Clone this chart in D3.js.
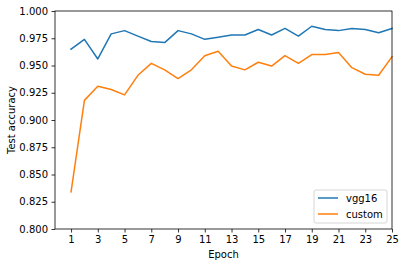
<!DOCTYPE html>
<html>
<head>
<meta charset="utf-8">
<script src="https://cdn.jsdelivr.net/npm/d3@7"></script>
<style>
  body { margin: 0; background: #fff; }
  svg { display: block; font-family: "DejaVu Sans", sans-serif; }
</style>
</head>
<body>
<svg width="405" height="266"></svg>
<script>
(function() {
  // values
  var epochs = d3.range(1, 26);
  var vgg16 = [0.965, 0.974, 0.956, 0.979, 0.982, 0.977, 0.972, 0.971, 0.982, 0.979,
               0.974, 0.976, 0.978, 0.978, 0.983, 0.978, 0.984, 0.977, 0.986, 0.983,
               0.982, 0.984, 0.983, 0.980, 0.984];
  var custom = [0.834, 0.918, 0.931, 0.928, 0.923, 0.941, 0.952, 0.946, 0.938, 0.946,
                0.959, 0.963, 0.9495, 0.946, 0.953, 0.9495, 0.959, 0.952, 0.960, 0.960,
                0.962, 0.948, 0.942, 0.941, 0.958];
  var xTicks = d3.range(1, 26, 2);
  var yTicks = d3.range(0, 9).map(function(i) { return 0.8 + i * 0.025; });

  var series = [
    {name: "vgg16", values: vgg16, color: "#1f77b4"},
    {name: "custom", values: custom, color: "#ff7f0e"}
  ];

  var svg = d3.select("svg");
  var left = 55, right = 392, top = 11, bottom = 229;

  var x = d3.scaleLinear().domain([-0.2, 25]).range([left, right]);
  var y = d3.scaleLinear().domain([0.8, 1.0]).range([bottom, top]);

  var line = d3.line()
      .x(function(d, i) { return x(epochs[i]); })
      .y(function(d) { return y(d); });

  var xAxis = svg.append("g")
      .attr("transform", "translate(0," + bottom + ")")
      .call(d3.axisBottom(x).tickValues(xTicks).tickSize(3.5).tickPadding(3.5).tickFormat(d3.format("d")));
  var yAxis = svg.append("g")
      .attr("transform", "translate(" + left + ",0)")
      .call(d3.axisLeft(y).tickValues(yTicks).tickSize(3.5).tickPadding(3.5).tickFormat(d3.format(".3f")));

  [xAxis, yAxis].forEach(function(a) {
    a.select(".domain").remove();
    a.selectAll("line").attr("stroke", "#000").attr("stroke-width", 0.8);
    a.selectAll("text").attr("fill", "#000").style("font-size", "10px")
      .style("font-family", "DejaVu Sans");
  });

  svg.append("g").selectAll("path")
    .data(series)
    .enter().append("path")
      .attr("fill", "none")
      .attr("stroke", function(d) { return d.color; })
      .attr("stroke-width", 1.5)
      .attr("stroke-linejoin", "round")
      .attr("stroke-linecap", "square")
      .attr("d", function(d) { return line(d.values); });

  svg.append("rect")
      .attr("x", left).attr("y", top)
      .attr("width", right - left).attr("height", bottom - top)
      .attr("fill", "none").attr("stroke", "#000").attr("stroke-width", 0.8);

  svg.append("text")
      .attr("x", (left + right) / 2).attr("y", 258)
      .attr("text-anchor", "middle")
      .style("font-size", "10px")
      .text("Epoch");

  svg.append("text")
      .attr("transform", "translate(15," + (top + bottom) / 2 + ") rotate(-90)")
      .attr("text-anchor", "middle")
      .style("font-size", "10px")
      .text("Test accuracy");

  // legend
  var lg = svg.append("g").attr("transform", "translate(314,190)");
  lg.append("rect")
      .attr("width", 73).attr("height", 33).attr("rx", 2)
      .attr("fill", "#fff").attr("fill-opacity", 0.8)
      .attr("stroke", "#ccc").attr("stroke-width", 0.8);
  var item = lg.selectAll(".item")
    .data(series)
    .enter().append("g")
      .attr("class", "item")
      .attr("transform", function(d, i) { return "translate(0," + (8 + i * 16) + ")"; });
  item.append("line")
      .attr("x1", 4).attr("x2", 24)
      .attr("stroke", function(d) { return d.color; })
      .attr("stroke-width", 1.5);
  item.append("text")
      .attr("x", 32).attr("y", 3.5)
      .style("font-size", "10px")
      .text(function(d) { return d.name; });
})();
</script>
</body>
</html>
